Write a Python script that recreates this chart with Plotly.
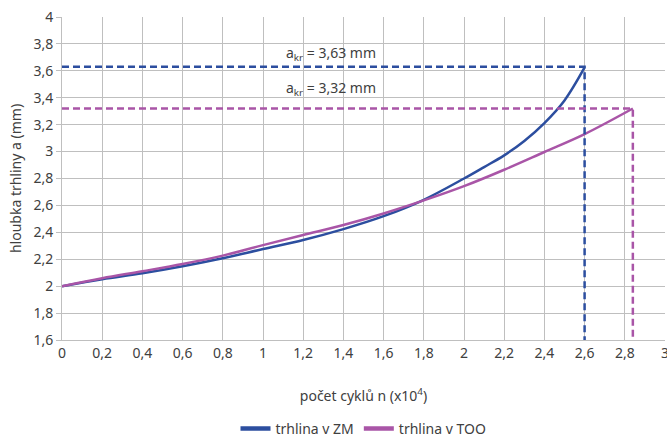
import plotly.graph_objects as go

# crack depth vs number of cycles (x10^4)
n_zm = [0, 0.2, 0.4, 0.6, 0.8, 1.0, 1.2, 1.4, 1.6, 1.8, 2.0, 2.1, 2.2, 2.3, 2.4, 2.5, 2.6]
a_zm = [2.0, 2.052, 2.096, 2.148, 2.207, 2.276, 2.343, 2.424, 2.52, 2.642, 2.80, 2.885, 2.972,
        3.079, 3.212, 3.38, 3.625]

n_too = [0, 0.2, 0.4, 0.6, 0.8, 1.0, 1.2, 1.4, 1.6, 1.8, 2.0, 2.2, 2.4, 2.6, 2.84]
a_too = [2.0, 2.059, 2.111, 2.165, 2.227, 2.305, 2.38, 2.454, 2.54, 2.637, 2.743, 2.865, 2.997,
         3.13, 3.32]

a_kr = [3.63, 3.32]
n_kr = [2.6, 2.84]
names = ["trhlina v ZM", "trhlina v TOO"]
colors = ["#2C4E9F", "#A955A7"]
y_min = 1.6

fig = go.Figure()
fig.add_trace(go.Scatter(x=n_zm, y=a_zm, mode="lines", name=names[0], showlegend=False,
                         line=dict(color=colors[0], width=2.5, shape="spline")))
fig.add_trace(go.Scatter(x=n_too, y=a_too, mode="lines", name=names[1], showlegend=False,
                         line=dict(color=colors[1], width=2.5, shape="spline")))

for ak, nk, c in zip(a_kr, n_kr, colors):
    fig.add_trace(go.Scatter(x=[0, nk, nk], y=[ak, ak, y_min], mode="lines",
                             showlegend=False, hoverinfo="skip",
                             line=dict(color=c, width=2.5, dash="7px,4px")))

# legend entries (thicker line swatches)
for nm, c in zip(names, colors):
    fig.add_trace(go.Scatter(x=[None], y=[None], mode="lines", name=nm,
                             line=dict(color=c, width=4.5)))

ann_pos = [(1.34, 3.726), (1.34, 3.47)]
for (ax, ay), ak in zip(ann_pos, a_kr):
    fig.add_annotation(x=ax, y=ay, xref="x", yref="y", showarrow=False,
                       text="a<sub>kr</sub> = " + f"{ak:.2f}".replace(".", ",") + " mm",
                       font=dict(size=14, color="#404040"))

font_family = "Noto Sans"
fig.update_layout(
    width=667, height=439,
    margin=dict(l=62, r=2, t=17, b=99, autoexpand=False),
    paper_bgcolor="white", plot_bgcolor="white",
    separators=", ",
    font=dict(family=font_family, size=14, color="#404040"),
    legend=dict(orientation="h", x=0.5, xanchor="center", y=-0.2755, yanchor="middle",
                font=dict(size=14, color="#404040"), itemwidth=30,
                tracegroupgap=0, borderwidth=0),
    showlegend=True,
)
fig.update_xaxes(range=[0, 3], dtick=0.2, tick0=0, showgrid=True, gridcolor="#BFBFBF",
                 gridwidth=1, showline=True, linecolor="#BFBFBF", linewidth=1,
                 ticks="", zeroline=False, ticklabeloverflow="allow", automargin=False,
                 title=dict(text="počet cyklů n (x10<sup>4</sup>)", standoff=30,
                            font=dict(size=14)))
fig.update_yaxes(range=[1.6, 4], dtick=0.2, tick0=0, showgrid=True, gridcolor="#BFBFBF",
                 gridwidth=1, showline=True, linecolor="#BFBFBF", linewidth=1,
                 ticks="outside", ticklen=5, tickcolor="#BFBFBF", zeroline=False,
                 automargin=False,
                 title=dict(text="hloubka trhliny a (mm)", standoff=8,
                            font=dict(size=14)))

fig.write_html("out.html")
